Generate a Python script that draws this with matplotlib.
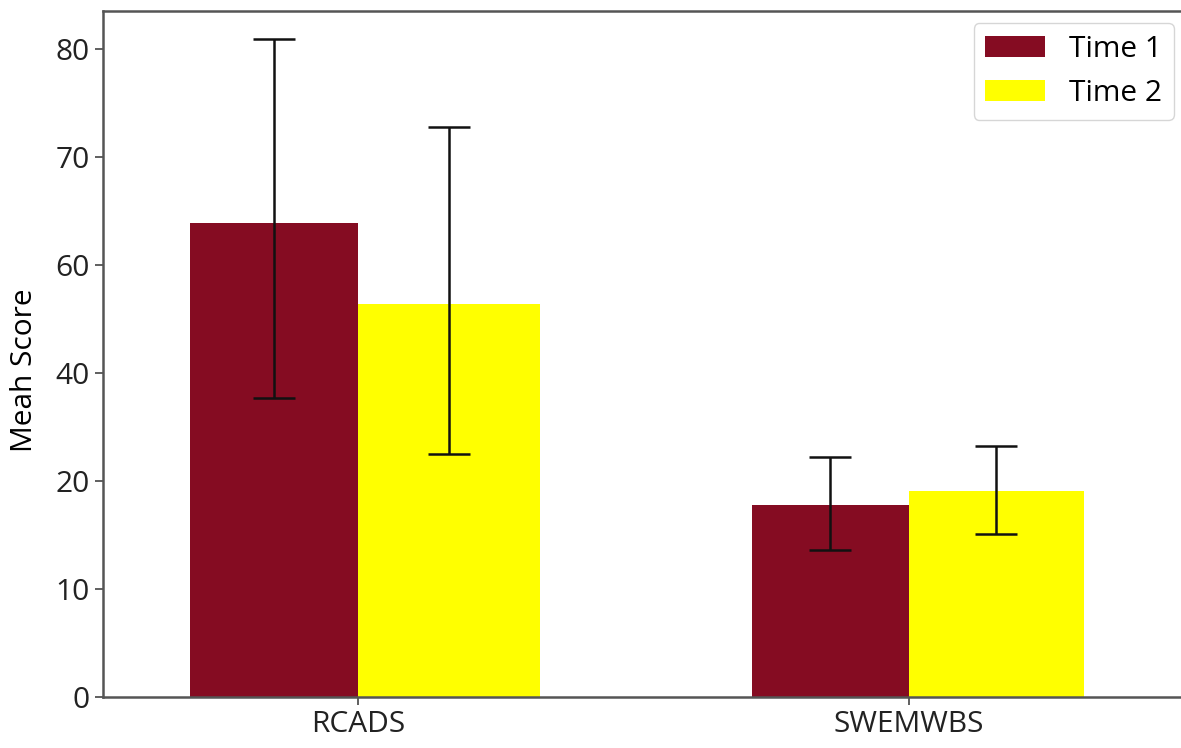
import numpy as np
import matplotlib
matplotlib.use('Agg')
import matplotlib.pyplot as plt

plt.rcParams['font.family'] = ['Open Sans', 'DejaVu Sans']

# scores per measure, in axis units (tick labels are set separately below)
measures = ['RCADS', 'SWEMWBS']
time1_mean = [43.9, 17.8]
time1_err_low = [16.2, 4.2]
time1_err_high = [17.0, 4.4]
time2_mean = [36.4, 19.1]
time2_err_low = [13.9, 4.0]
time2_err_high = [16.4, 4.1]

tick_pos = [0, 10, 20, 30, 40, 50, 60]
tick_labels = ['0', '10', '20', '40', '60', '70', '80']

x = np.arange(len(measures))
w1 = np.array([0.305, 0.285])
w2 = np.array([0.33, 0.318])
fs = 21.5

fig = plt.figure(figsize=(11.81, 7.48), dpi=100)
ax = fig.add_axes([0.0872, 0.0682, 0.9170, 0.9171])

ax.bar(x - w1 / 2, time1_mean, width=w1, color='#850c22', label='Time 1',
       yerr=[time1_err_low, time1_err_high], capsize=15,
       error_kw=dict(elinewidth=1.8, capthick=1.8, ecolor='#111111'))
ax.bar(x + w2 / 2, time2_mean, width=w2, color='#ffff00', label='Time 2',
       yerr=[time2_err_low, time2_err_high], capsize=15,
       error_kw=dict(elinewidth=1.8, capthick=1.8, ecolor='#111111'))

ax.set_xlim(-0.463, 1.503)
ax.set_ylim(0, 63.5)
ax.set_xticks(x)
ax.set_xticklabels(measures, fontsize=fs)
ax.set_yticks(tick_pos)
ax.set_yticklabels(tick_labels, fontsize=fs)
ax.set_ylabel('Meah Score', fontsize=fs)
ax.yaxis.set_label_coords(-0.059, 0.477)
ax.tick_params(length=6, width=1.2, color='#444444', labelcolor='#222222')

for s in ax.spines.values():
    s.set_color('#555555')
    s.set_linewidth(1.8)

ax.legend(loc='upper right', fontsize=fs, borderaxespad=0.4)

fig.savefig('out.png', dpi=100)
